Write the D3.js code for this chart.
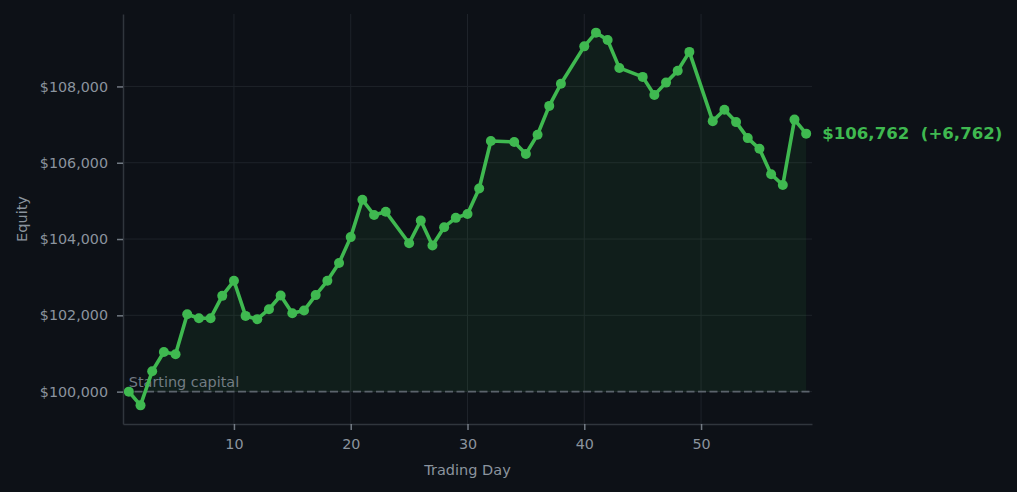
<!DOCTYPE html>
<html>
<head>
<meta charset="utf-8">
<script src="https://cdn.jsdelivr.net/npm/d3@7"></script>
<style>
  html, body { margin: 0; padding: 0; background: #0d1117; }
  svg { display: block; font-family: "DejaVu Sans", sans-serif; }
</style>
</head>
<body>
<div id="chart"></div>
<script>
// Equity per trading day (some days have no record)
const days = [1, 2, 3, 4, 5, 6, 7, 8, 9, 10, 11, 12, 13, 14, 15, 16, 17, 18, 19, 20,
  21, 22, 23, 25, 26, 27, 28, 29, 30, 31, 32, 34, 35, 36, 37, 38, 40, 41, 42, 43,
  45, 46, 47, 48, 49, 51, 52, 53, 54, 55, 56, 57, 58, 59];
const equity = [100000, 99640, 100535, 101040, 100980, 102030, 101925, 101925, 102510, 102905,
  101985, 101900, 102160, 102520, 102055, 102125, 102530, 102905, 103370, 104050,
  105030, 104630, 104715, 103890, 104485, 103830, 104310, 104555, 104655, 105325,
  106570, 106545, 106230, 106735, 107490, 108070, 109050, 109410, 109215, 108485,
  108250, 107775, 108100, 108410, 108905, 107090, 107390, 107065, 106645, 106365,
  105700, 105415, 107130, 106762];
const startCapital = 100000;
const xTicks = [10, 20, 30, 40, 50];
const yTicks = [100000, 102000, 104000, 106000, 108000];

const W = 1017, H = 492;
const margin = { top: 14, right: 205, bottom: 68, left: 123 };
const innerW = W - margin.left - margin.right;
const innerH = H - margin.top - margin.bottom;

const C = {
  bg: '#0d1117', line: '#3fb950', grid: '#1e232a', spine: '#30363d',
  text: '#8b949e', ref: '#5b636c', fill: 'rgba(63,185,80,0.08)'
};

const pts = days.map((d, i) => ({ day: d, v: equity[i] }));

const [yMin, yMax] = d3.extent(equity);
const pad = (yMax - yMin) * 0.05;
const x = d3.scaleLinear().domain([0.5, 59.5]).range([0, innerW]);
const y = d3.scaleLinear().domain([yMin - pad, yMax + pad]).range([innerH, 0]);

const svg = d3.select('#chart').append('svg')
  .attr('width', W).attr('height', H);
svg.append('rect').attr('width', W).attr('height', H).attr('fill', C.bg);

const g = svg.append('g').attr('transform', `translate(${margin.left},${margin.top})`);

// grid
g.append('g').selectAll('line').data(xTicks).join('line')
  .attr('x1', d => x(d)).attr('x2', d => x(d))
  .attr('y1', 0).attr('y2', innerH)
  .attr('stroke', C.grid).attr('stroke-width', 1);
g.append('g').selectAll('line').data(yTicks).join('line')
  .attr('x1', 0).attr('x2', innerW)
  .attr('y1', d => y(d)).attr('y2', d => y(d))
  .attr('stroke', C.grid).attr('stroke-width', 1);

// fill between equity and starting capital
g.append('path').datum(pts)
  .attr('fill', C.fill)
  .attr('d', d3.area().x(d => x(d.day)).y0(y(startCapital)).y1(d => y(d.v)));

// starting capital reference
g.append('line')
  .attr('x1', 0).attr('x2', innerW)
  .attr('y1', y(startCapital)).attr('y2', y(startCapital))
  .attr('stroke', C.ref).attr('stroke-width', 1.6).attr('stroke-dasharray', '8,3.5');
g.append('text')
  .attr('x', x(1)).attr('y', y(startCapital) - 5)
  .attr('fill', C.text).attr('opacity', 0.8)
  .attr('font-size', '14.4px')
  .text('Starting capital');

// axes
const xAxis = g.append('g').attr('transform', `translate(0,${innerH})`)
  .call(d3.axisBottom(x).tickValues(xTicks).tickSize(6).tickPadding(9).tickSizeOuter(0));
const yAxis = g.append('g')
  .call(d3.axisLeft(y).tickValues(yTicks).tickSize(6).tickPadding(9).tickSizeOuter(0)
    .tickFormat(d => '$' + d3.format(',')(d)));
[xAxis, yAxis].forEach(a => {
  a.select('.domain').attr('stroke', C.spine).attr('stroke-width', 1.5);
  a.selectAll('.tick line').attr('stroke', C.text).attr('stroke-width', 1.5).attr('opacity', 0.8);
  a.selectAll('.tick text').attr('fill', C.text).attr('font-size', '14.3px')
    .attr('font-family', '"DejaVu Sans", sans-serif');
});

// axis labels
g.append('text')
  .attr('x', innerW / 2).attr('y', innerH + 51)
  .attr('text-anchor', 'middle').attr('fill', C.text).attr('font-size', '14.5px')
  .text('Trading Day');
g.append('text')
  .attr('transform', `translate(${-96},${innerH / 2}) rotate(-90)`)
  .attr('text-anchor', 'middle').attr('fill', C.text).attr('font-size', '14.5px')
  .text('Equity');

// equity line + markers
g.append('path').datum(pts)
  .attr('fill', 'none').attr('stroke', C.line).attr('stroke-width', 3.6)
  .attr('stroke-linejoin', 'round')
  .attr('d', d3.line().x(d => x(d.day)).y(d => y(d.v)));
g.append('g').selectAll('circle').data(pts).join('circle')
  .attr('cx', d => x(d.day)).attr('cy', d => y(d.v)).attr('r', 5)
  .attr('fill', C.line);

// final value annotation
const last = pts[pts.length - 1];
g.append('text')
  .attr('x', x(last.day) + 16).attr('y', y(last.v))
  .attr('dominant-baseline', 'central')
  .attr('fill', C.line).attr('font-weight', 'bold').attr('font-size', '16.6px')
  .attr('xml:space', 'preserve')
  .style('white-space', 'pre')
  .text(`$${d3.format(',')(last.v)}  (+${d3.format(',')(last.v - startCapital)})`);
</script>
</body>
</html>
